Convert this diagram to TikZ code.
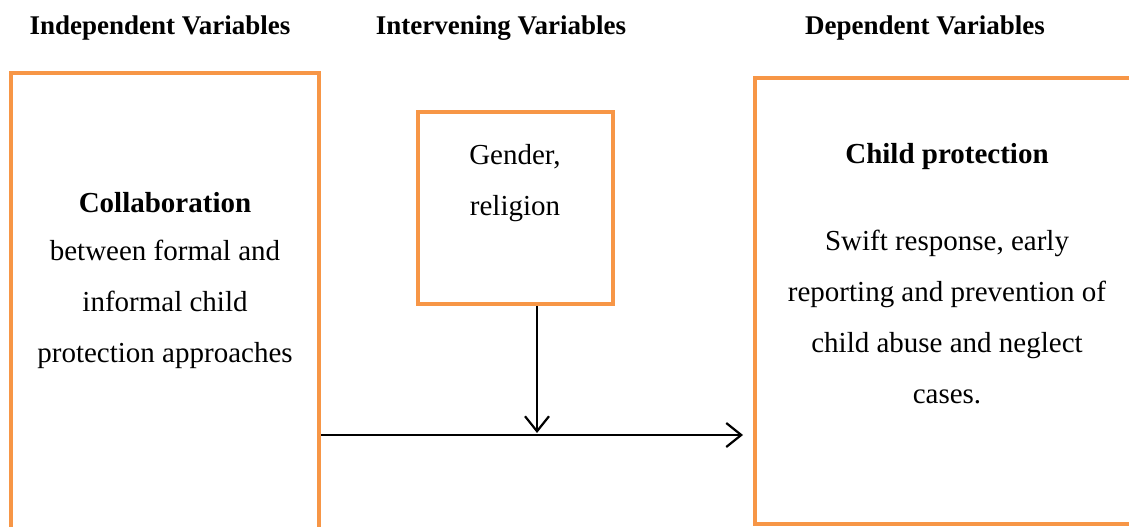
\documentclass[tikz,border=0pt]{standalone}
\usepackage{fontspec}
\setmainfont{Liberation Serif}
\usetikzlibrary{arrows.meta}
\definecolor{boxorange}{HTML}{F79646}
\tikzset{
  varbox/.style={draw=boxorange, line width=4pt, inner sep=0pt},
  head/.style={font=\fontsize{27}{30}\selectfont\bfseries, anchor=base},
  title/.style={font=\fontsize{29}{51}\selectfont\bfseries, anchor=base},
  body/.style={font=\fontsize{29}{51}\selectfont, align=center, anchor=base},
  link/.style={line width=2.2pt, -{Straight Barb[length=15pt,width=24pt,line width=2.2pt]}}
}
\begin{document}
\begin{tikzpicture}[x=1pt,y=-1pt]
\useasboundingbox (0,0) rectangle (1129,527);
\clip (0,0) rectangle (1129,527);
% column headings
\node[head] (hindep) at (160,35) {Independent Variables};
\node[head] (hinter) at (501,35) {Intervening Variables};
\node[head] (hdep) at (925,35) {Dependent Variables};
% boxes
\node[varbox, minimum width=308pt, minimum height=487pt] (indep) at (165,316.5) {};
\node[varbox, minimum width=195pt, minimum height=192pt] (inter) at (515.5,208) {};
\node[varbox, minimum width=385pt, minimum height=446pt] (dep) at (947.5,301) {};
% box texts (base = last line)
\node[title] (tindep) at (165,212) {Collaboration};
\node[body] (bindep) at (165,362) {between formal and\\informal child\\protection approaches};
\node[body] (binter) at (515,215) {Gender,\\religion};
\node[title] (tdep) at (947,163) {Child protection};
\node[body] (bdep) at (947,403) {Swift response, early\\reporting and prevention of\\child abuse and neglect\\cases.};
% connectors
\coordinate (join) at (537,435);
\draw[link, shorten >=10pt] (indep.east |- join) -- (dep.west |- join);
\draw[link] (inter.south -| join) -- ([yshift=2pt]join);
\end{tikzpicture}
\end{document}
